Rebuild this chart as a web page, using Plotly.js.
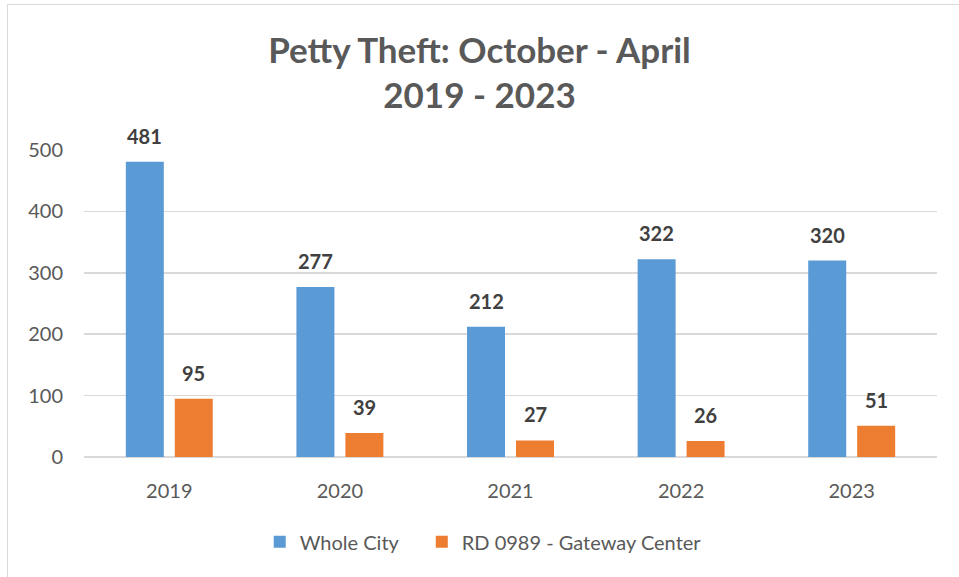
<!DOCTYPE html>
<html>
<head>
<meta charset="utf-8">
<script src="https://cdn.plot.ly/plotly-3.0.1.min.js"></script>
<style>
html,body{margin:0;padding:0;background:#fff;}
#wrap{position:relative;width:959px;height:577px;}
#chart{width:959px;height:577px;}
#frame{position:absolute;left:7px;top:4px;width:960px;height:580px;border:1px solid #d9d9d9;pointer-events:none;box-sizing:border-box;}
</style>
</head>
<body>
<div id="wrap"><div id="chart"></div><div id="frame"></div></div>
<script>
const years = ["2019", "2020", "2021", "2022", "2023"];
const wholeCity = [481, 277, 212, 322, 320];
const gateway = [95, 39, 27, 26, 51];
const seriesNames = ["Whole City", "RD 0989 - Gateway Center"];
const yTicks = [0, 100, 200, 300, 400, 500];

const fontFam = "Lato, 'Open Sans', sans-serif";
const labelFont = {family: fontFam, size: 20, color: "#404040", weight: "bold"};

const traces = [
  {type: "bar", x: years, y: wholeCity, name: seriesNames[0], marker: {color: "#5B9BD5"}, hoverinfo: "none", legend: "legend"},
  {type: "bar", x: years, y: gateway, name: seriesNames[1], marker: {color: "#ED7D31"}, hoverinfo: "none", legend: "legend2"}
];

const annotations = [];
[[wholeCity, -24.5], [gateway, 24.5]].forEach(([vals, dx]) => {
  vals.forEach((v, i) => {
    annotations.push({x: i, y: v, xref: "x", yref: "y", text: "<b>" + v + "</b>", showarrow: false,
      xshift: dx, yshift: 12, yanchor: "bottom", font: labelFont});
  });
});

const legendBase = {orientation: "h", y: -0.276, yanchor: "middle", xanchor: "left", font: {size: 20, color: "#595959"}, bgcolor: "rgba(0,0,0,0)"};

const layout = {
  width: 959, height: 577,
  paper_bgcolor: "#fff", plot_bgcolor: "#fff",
  margin: {l: 84, r: 22, t: 150, b: 120},
  font: {family: fontFam, color: "#595959", size: 20},
  title: {text: "<b>Petty Theft: October - April<br>2019 - 2023</b>", x: 0.5, xanchor: "center",
          y: 0.891, yanchor: "middle", font: {family: fontFam, size: 35, color: "#595959"}},
  barmode: "group", bargap: 0.426, bargroupgap: 0.224,
  xaxis: {type: "category", range: [-0.5, 4.5], showline: false, ticks: "", tickfont: {size: 20, color: "#595959"}, showgrid: false, ticklabelstandoff: 20},
  yaxis: {range: [0, 500], tickvals: yTicks, ticks: "", showline: false, gridcolor: "#d9d9d9", gridwidth: 1.5,
          zeroline: true, zerolinecolor: "#d9d9d9", zerolinewidth: 1.5, tickfont: {size: 20, color: "#595959"}, ticklabelstandoff: 20},
  legend: Object.assign({}, legendBase, {x: 0.206}),
  legend2: Object.assign({}, legendBase, {x: 0.396}),
  annotations: annotations,
  showlegend: true
};

Plotly.newPlot("chart", traces, layout, {displayModeBar: false, staticPlot: true});
</script>
</body>
</html>
